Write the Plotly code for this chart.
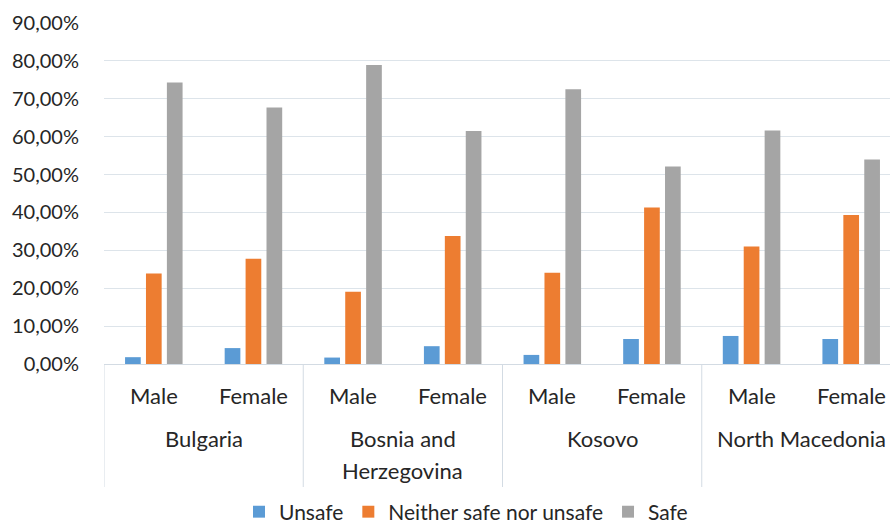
import plotly.graph_objects as go

# Survey shares by country and gender (percent)
countries = ["Bulgaria", "Bosnia and\nHerzegovina", "Kosovo", "North Macedonia"]
genders = ["Male", "Female"]
series_names = ["Unsafe", "Neither safe nor unsafe", "Safe"]
unsafe = [1.8, 4.2, 1.7, 4.7, 2.4, 6.6, 7.4, 6.6]
neither = [23.9, 27.8, 19.1, 33.8, 24.1, 41.3, 31.0, 39.3]
safe = [74.3, 67.7, 78.9, 61.5, 72.5, 52.1, 61.6, 54.0]
tick_values = [0, 10, 20, 30, 40, 50, 60, 70, 80, 90]
tick_labels = ["0,00%", "10,00%", "20,00%", "30,00%", "40,00%",
               "50,00%", "60,00%", "70,00%", "80,00%", "90,00%"]

colors = ["#5b9bd5", "#ed7d31", "#a5a5a5"]
FONT = "Lato"
TXT = "#262626"
W, H = 890, 527
ML, MR, MT, MB = 104, 0, 23, 163
plot_h = H - MT - MB

n = len(countries) * len(genders)
xs = list(range(n))

fig = go.Figure()
for name, vals, col in zip(series_names, [unsafe, neither, safe], colors):
    fig.add_trace(go.Bar(x=xs, y=vals, name=name, marker_color=col,
                         marker_line_width=0))


def py(px_below_axis):
    """Paper y for a pixel offset below the x axis line."""
    return -px_below_axis / plot_h


annotations = []
shapes = []
for ci, country in enumerate(countries):
    for gi, g in enumerate(genders):
        annotations.append(dict(x=ci * 2 + gi, y=py(31), xref="x", yref="paper",
                                text=g, showarrow=False, yanchor="middle",
                                font=dict(family=FONT, size=22, color=TXT)))
    for li, line in enumerate(country.split("\n")):
        annotations.append(dict(x=ci * 2 + 0.5, y=py(74 + 32 * li), xref="x",
                                yref="paper", text=line, showarrow=False,
                                yanchor="middle",
                                font=dict(family=FONT, size=22, color=TXT)))
    shapes.append(dict(type="line", xref="x", yref="paper",
                       x0=ci * 2 - 0.5, x1=ci * 2 - 0.5, y0=0, y1=py(123),
                       line=dict(color="#d3dbe3", width=1)))

fig.update_layout(
    width=W, height=H,
    margin=dict(l=ML, r=MR, t=MT, b=MB),
    paper_bgcolor="white", plot_bgcolor="white",
    barmode="group", bargap=0.37, bargroupgap=0.25,
    showlegend=True,
    legend=dict(orientation="h", xref="container", yref="container",
                x=466 / W, xanchor="center",
                y=(H - 512) / H, yanchor="middle",
                font=dict(family=FONT, size=21, color=TXT),
                itemwidth=30, tracegroupgap=0, borderwidth=0),
    annotations=annotations,
    shapes=shapes,
    font=dict(family=FONT, size=20, color=TXT),
)
fig.update_xaxes(range=[-0.5, n - 0.5 - 11 / 99.6], showticklabels=False,
                 showgrid=False, zeroline=False, showline=True,
                 linecolor="#d3dbe3", linewidth=1)
fig.update_yaxes(range=[0, 90], tickvals=tick_values, ticktext=tick_labels,
                 showgrid=True, gridcolor="#dde4ea", gridwidth=1.3,
                 zeroline=False, ticks="outside", tickcolor="rgba(0,0,0,0)",
                 ticklen=20, tickfont=dict(family=FONT, size=20, color=TXT))

fig.write_html("out.html")
